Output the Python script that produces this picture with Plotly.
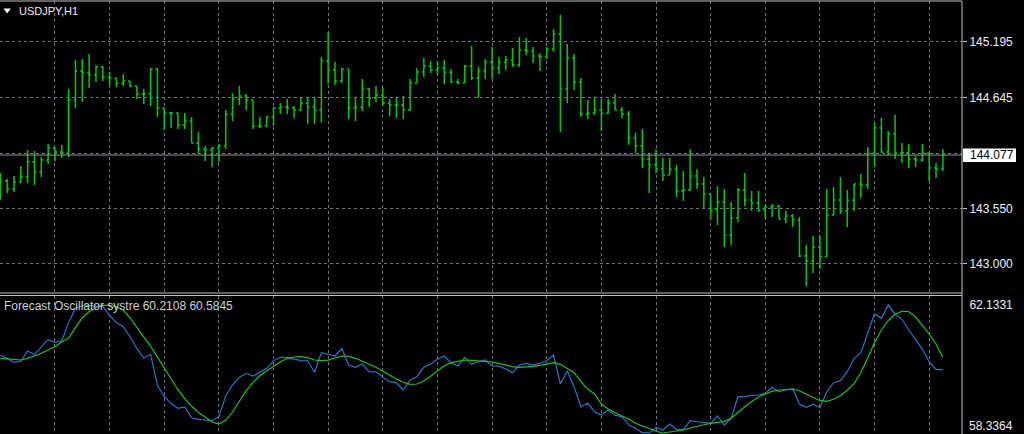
import plotly.graph_objects as go

# ---------------- data (USDJPY, H1) ----------------
bar_index = list(range(139))

opens = [
143.771, 143.820, 143.741, 143.811, 143.860, 144.008, 143.909, 144.028, 144.147, 144.107,
144.097, 144.621, 144.908, 144.888, 144.868, 144.948, 144.849, 144.839, 144.789, 144.809,
144.760, 144.681, 144.684, 144.928, 144.542, 144.493, 144.490, 144.374, 144.414, 144.196,
144.137, 144.127, 144.147, 144.167, 144.483, 144.631, 144.661, 144.621, 144.364, 144.361,
144.453, 144.542, 144.552, 144.545, 144.522, 144.592, 144.552, 144.519, 145.007, 144.918,
144.809, 144.928, 144.542, 144.549, 144.730, 144.641, 144.671, 144.592, 144.572, 144.569,
144.522, 144.789, 144.898, 144.957, 144.918, 144.938, 144.895, 144.799, 144.789, 144.957,
144.839, 144.908, 144.997, 144.938, 144.994, 145.017, 144.967, 145.116, 145.106, 145.056,
145.046, 145.126, 145.274, 144.730, 145.037, 144.799, 144.483, 144.493, 144.522, 144.490,
144.592, 144.522, 144.483, 144.246, 144.167, 144.038, 143.979, 143.939, 143.880, 143.936,
143.722, 143.731, 143.870, 143.791, 143.692, 143.534, 143.613, 143.287, 143.455, 143.728,
143.633, 143.603, 143.531, 143.563, 143.573, 143.445, 143.474, 143.435, 143.079, 143.029,
143.168, 143.069, 143.484, 143.633, 143.524, 143.630, 143.791, 143.781, 144.097, 144.344,
144.107, 144.285, 144.094, 144.100, 144.038, 144.028, 144.097, 143.949, 143.939]

highs = [
143.900, 143.840, 143.870, 143.969, 144.127, 144.117, 144.058, 144.186, 144.157, 144.176,
144.730, 145.017, 145.027, 145.076, 144.967, 144.957, 144.898, 144.839, 144.878, 144.809,
144.760, 144.730, 144.938, 144.938, 144.542, 144.503, 144.493, 144.493, 144.453, 144.305,
144.167, 144.157, 144.186, 144.522, 144.691, 144.760, 144.681, 144.621, 144.453, 144.463,
144.552, 144.592, 144.631, 144.562, 144.641, 144.651, 144.651, 145.046, 145.294, 144.997,
144.938, 144.928, 144.651, 144.829, 144.740, 144.760, 144.740, 144.631, 144.651, 144.661,
144.829, 144.938, 145.037, 145.007, 145.007, 145.017, 144.928, 144.829, 144.967, 145.155,
144.948, 145.027, 145.145, 145.046, 145.056, 145.135, 145.244, 145.234, 145.145, 145.086,
145.145, 145.323, 145.462, 145.175, 145.076, 144.839, 144.621, 144.651, 144.631, 144.631,
144.681, 144.552, 144.513, 144.295, 144.335, 144.097, 144.137, 144.048, 144.048, 143.979,
143.919, 144.137, 143.939, 143.860, 143.692, 143.771, 143.741, 143.613, 143.751, 143.900,
143.722, 143.722, 143.593, 143.593, 143.583, 143.524, 143.494, 143.465, 143.188, 143.277,
143.277, 143.741, 143.761, 143.860, 143.731, 143.791, 143.890, 144.157, 144.394, 144.443,
144.315, 144.473, 144.196, 144.186, 144.068, 144.186, 144.097, 143.998, 144.137]

lows = [
143.633, 143.702, 143.712, 143.801, 143.801, 143.781, 143.860, 143.989, 144.018, 144.048,
144.058, 144.542, 144.602, 144.740, 144.799, 144.809, 144.770, 144.750, 144.760, 144.750,
144.631, 144.582, 144.562, 144.453, 144.325, 144.344, 144.335, 144.335, 144.196, 144.097,
144.018, 143.959, 144.008, 144.137, 144.414, 144.572, 144.522, 144.335, 144.344, 144.358,
144.364, 144.483, 144.483, 144.443, 144.513, 144.384, 144.384, 144.404, 144.779, 144.770,
144.789, 144.433, 144.414, 144.513, 144.552, 144.602, 144.562, 144.463, 144.443, 144.433,
144.513, 144.789, 144.849, 144.888, 144.868, 144.779, 144.789, 144.779, 144.789, 144.819,
144.641, 144.829, 144.829, 144.878, 144.918, 144.948, 144.948, 145.066, 144.987, 144.908,
145.027, 145.096, 144.305, 144.592, 144.720, 144.453, 144.433, 144.473, 144.315, 144.483,
144.522, 144.443, 144.176, 144.097, 143.949, 143.702, 143.900, 143.820, 143.880, 143.662,
143.623, 143.722, 143.741, 143.554, 143.435, 143.385, 143.168, 143.188, 143.415, 143.573,
143.524, 143.514, 143.455, 143.465, 143.445, 143.405, 143.366, 143.069, 142.782, 142.911,
142.950, 143.069, 143.484, 143.494, 143.366, 143.524, 143.652, 143.741, 143.959, 144.097,
144.077, 144.038, 143.998, 143.949, 143.959, 144.008, 143.820, 143.850, 143.919]

closes = [
143.820, 143.741, 143.811, 143.860, 144.008, 143.909, 144.028, 144.147, 144.107, 144.097,
144.621, 144.908, 144.888, 144.868, 144.948, 144.849, 144.839, 144.789, 144.809, 144.760,
144.681, 144.684, 144.928, 144.542, 144.493, 144.490, 144.374, 144.414, 144.196, 144.137,
144.127, 144.147, 144.167, 144.483, 144.631, 144.661, 144.621, 144.364, 144.361, 144.453,
144.542, 144.552, 144.545, 144.522, 144.592, 144.552, 144.519, 145.007, 144.918, 144.809,
144.928, 144.542, 144.549, 144.730, 144.641, 144.671, 144.592, 144.572, 144.569, 144.522,
144.789, 144.898, 144.957, 144.918, 144.938, 144.895, 144.799, 144.789, 144.957, 144.839,
144.908, 144.997, 144.938, 144.994, 145.017, 144.967, 145.116, 145.106, 145.056, 145.046,
145.126, 145.274, 144.730, 145.037, 144.799, 144.483, 144.493, 144.522, 144.490, 144.592,
144.522, 144.483, 144.246, 144.167, 144.038, 143.979, 143.939, 143.880, 143.936, 143.722,
143.731, 143.870, 143.791, 143.692, 143.534, 143.613, 143.287, 143.455, 143.728, 143.633,
143.603, 143.531, 143.563, 143.573, 143.445, 143.474, 143.435, 143.079, 143.029, 143.168,
143.069, 143.484, 143.633, 143.524, 143.630, 143.791, 143.781, 144.097, 144.344, 144.107,
144.285, 144.094, 144.100, 144.038, 144.028, 144.097, 143.949, 143.939, 144.077]

# Forecast oscillator: fast (blue) and signal (green)
osc_fast = [
60.650, 60.540, 60.433, 60.463, 60.769, 60.671, 60.887, 61.104, 61.027, 61.074,
61.608, 62.044, 62.110, 62.120, 62.100, 62.090, 61.827, 61.608, 61.489, 61.184,
60.837, 60.561, 60.671, 59.760, 59.413, 59.217, 59.069, 59.107, 58.790, 58.743,
58.722, 58.701, 58.820, 59.434, 59.760, 59.988, 60.107, 60.027, 60.137, 60.255,
60.481, 60.582, 60.570, 60.522, 60.481, 60.478, 60.137, 60.718, 60.680, 60.620,
60.849, 60.353, 60.285, 60.383, 60.155, 60.150, 59.988, 59.858, 59.828, 59.612,
59.908, 60.006, 60.285, 60.383, 60.522, 60.620, 60.422, 60.324, 60.582, 60.383,
60.451, 60.502, 60.324, 60.320, 60.235, 60.125, 60.353, 60.404, 60.350, 60.404,
60.481, 60.650, 59.790, 60.175, 59.710, 59.116, 59.217, 58.968, 58.870, 59.018,
58.866, 58.820, 58.574, 58.476, 58.345, 58.3364, 58.505, 58.425, 58.603, 58.446,
58.440, 58.701, 58.671, 58.654, 58.624, 58.841, 58.574, 58.772, 59.413, 59.410,
59.455, 59.463, 59.514, 59.692, 59.561, 59.612, 59.650, 59.196, 59.099, 59.190,
59.095, 59.561, 59.828, 59.888, 60.155, 60.552, 60.718, 61.294, 61.866, 61.738,
62.1331, 61.860, 61.709, 61.391, 61.116, 60.819, 60.451, 60.226, 60.2108]

osc_signal = [
60.552, 60.534, 60.522, 60.502, 60.552, 60.620, 60.700, 60.798, 60.896, 61.044,
61.154, 61.460, 61.756, 61.934, 62.060, 62.120, 62.120, 62.080, 61.985, 61.747,
61.472, 61.175, 60.908, 60.591, 60.255, 59.917, 59.621, 59.354, 59.128, 58.950,
58.802, 58.662, 58.603, 58.713, 58.959, 59.256, 59.591, 59.840, 60.036, 60.184,
60.324, 60.442, 60.552, 60.591, 60.600, 60.570, 60.502, 60.481, 60.500, 60.567,
60.620, 60.611, 60.552, 60.463, 60.374, 60.285, 60.166, 60.048, 59.938, 59.840,
59.781, 59.790, 59.879, 60.018, 60.175, 60.333, 60.422, 60.472, 60.502, 60.493,
60.481, 60.472, 60.442, 60.404, 60.362, 60.303, 60.285, 60.294, 60.315, 60.344,
60.383, 60.422, 60.374, 60.244, 60.125, 59.870, 59.633, 59.493, 59.196, 59.048,
58.938, 58.841, 58.752, 58.624, 58.544, 58.455, 58.387, 58.3364, 58.366, 58.396,
58.425, 58.485, 58.544, 58.582, 58.624, 58.654, 58.683, 58.772, 58.959, 59.116,
59.265, 59.404, 59.502, 59.573, 59.612, 59.633, 59.642, 59.591, 59.493, 59.383,
59.294, 59.277, 59.336, 59.443, 59.603, 59.799, 60.137, 60.561, 61.015, 61.391,
61.667, 61.857, 61.946, 61.940, 61.777, 61.531, 61.273, 60.976, 60.5845]

price_ticks = [145.195, 144.645, 144.095, 143.550, 143.000]
price_tick_text = ["145.195", "144.645", "", "143.550", "143.000"]
osc_top_label = "62.1331"
osc_bottom_label = "58.3364"
osc_top_value = 62.1331
grid_bars = list(range(8, 139, 8))
last_price = 144.077
symbol_title = "USDJPY,H1"
indicator_title = "Forecast Oscillator systre 60.2108 60.5845"

# ---------------- figure ----------------
W, H = 1024, 434
PLOT_R = 962            # right edge of the plotting area (px)
BAR_PX = 6.83           # pixel spacing between bars
X0 = -0.33 / BAR_PX
X1 = X0 + PLOT_R / BAR_PX

def px(x):
    return x / W

def py(y):
    return 1 - y / H

GRID = "#6c7888"
DASH = "3px,3px"
FONT = "Liberation Sans"
BORDER = "#c4c4c4"
BAR_GREEN = "#00c800"
LABEL = "#f0f0f0"

fig = go.Figure()

fig.add_trace(go.Ohlc(
    x=bar_index, open=opens, high=highs, low=lows, close=closes,
    increasing=dict(line=dict(color=BAR_GREEN, width=1.5)),
    decreasing=dict(line=dict(color=BAR_GREEN, width=1.5)),
    tickwidth=0.3, xaxis="x", yaxis="y", showlegend=False, hoverinfo="skip"))

fig.add_trace(go.Scatter(
    x=bar_index, y=osc_fast, mode="lines",
    line=dict(color="#2a74cc", width=1.2),
    xaxis="x2", yaxis="y2", showlegend=False, hoverinfo="skip"))
fig.add_trace(go.Scatter(
    x=bar_index, y=osc_signal, mode="lines",
    line=dict(color="#1ec41e", width=1.2),
    xaxis="x2", yaxis="y2", showlegend=False, hoverinfo="skip"))

common_x = dict(range=[X0, X1], domain=[0, px(PLOT_R)], showticklabels=False,
                ticks="", tickvals=grid_bars, showgrid=True, gridcolor=GRID,
                griddash=DASH, gridwidth=1, zeroline=False, showline=False,
                fixedrange=True)

fig.update_layout(
    width=W, height=H,
    margin=dict(l=0, r=0, t=0, b=0),
    paper_bgcolor="black", plot_bgcolor="black",
    showlegend=False,
    xaxis=dict(**common_x, anchor="y", rangeslider=dict(visible=False)),
    xaxis2=dict(**common_x, anchor="y2", matches="x"),
    yaxis=dict(domain=[py(292), py(1)], range=[142.723, 145.600], side="right",
               anchor="x", tickvals=price_ticks, ticktext=price_tick_text,
               ticks="outside", ticklen=4, tickcolor=BORDER,
               tickfont=dict(family=FONT, size=12, color=LABEL),
               showgrid=True, gridcolor=GRID, griddash=DASH, gridwidth=1,
               zeroline=False, showline=False),
    yaxis2=dict(domain=[0, py(296)], range=[58.307, 62.400], side="right",
                anchor="x2", tickvals=[osc_top_value], ticktext=[osc_top_label],
                ticks="outside", ticklen=4, tickcolor="black",
                tickfont=dict(family=FONT, size=12, color=LABEL),
                showgrid=False, zeroline=False, showline=False),
)

shapes = []
# current price line
shapes.append(dict(type="line", xref="paper", yref="y", x0=0, x1=px(PLOT_R),
                   y0=last_price, y1=last_price, line=dict(color="#8e949a", width=1)))
# frame lines
for y in (1, 293):
    shapes.append(dict(type="line", xref="paper", yref="paper", x0=0, x1=px(PLOT_R),
                       y0=py(y), y1=py(y), line=dict(color=BORDER, width=1)))
shapes.append(dict(type="line", xref="paper", yref="paper", x0=0, x1=px(PLOT_R),
                   y0=py(295.5), y1=py(295.5), line=dict(color=BORDER, width=1)))
shapes.append(dict(type="line", xref="paper", yref="paper", x0=px(PLOT_R), x1=px(PLOT_R),
                   y0=py(1), y1=0, line=dict(color=BORDER, width=1)))
# price label box
shapes.append(dict(type="rect", xref="paper", yref="paper", x0=px(963), x1=px(1016),
                   y0=py(162), y1=py(148.5), fillcolor="white", line=dict(width=0)))
# title triangle
shapes.append(dict(type="path", xref="paper", yref="paper",
                   path=f"M {px(3.5)} {py(8.5)} L {px(10.8)} {py(8.5)} L {px(7.15)} {py(13.5)} Z",
                   fillcolor="white", line=dict(width=0)))
fig.update_layout(shapes=shapes)

fig.add_annotation(xref="paper", yref="y", x=px(967.5), y=last_price, text="144.077",
                   showarrow=False, xanchor="left", yanchor="middle",
                   font=dict(family=FONT, size=12, color="black"))
fig.add_annotation(xref="paper", yref="paper", x=px(17), y=py(11), text=symbol_title,
                   showarrow=False, xanchor="left", yanchor="middle",
                   font=dict(family=FONT, size=11, color="#eeeeee"))
fig.add_annotation(xref="paper", yref="paper", x=px(2), y=py(305.5), text=indicator_title,
                   showarrow=False, xanchor="left", yanchor="middle",
                   font=dict(family=FONT, size=12, color="#d0d0d0"))
# bottom value of the indicator scale, sitting on the lower window edge
fig.add_annotation(xref="paper", yref="paper", x=px(967.5), y=0, text=osc_bottom_label,
                   showarrow=False, xanchor="left", yanchor="bottom", borderpad=0,
                   font=dict(family=FONT, size=12, color=LABEL))

fig.write_html("out.html", config={"displayModeBar": False},
               post_script="document.body.style.margin='0px';document.body.style.background='black';")
